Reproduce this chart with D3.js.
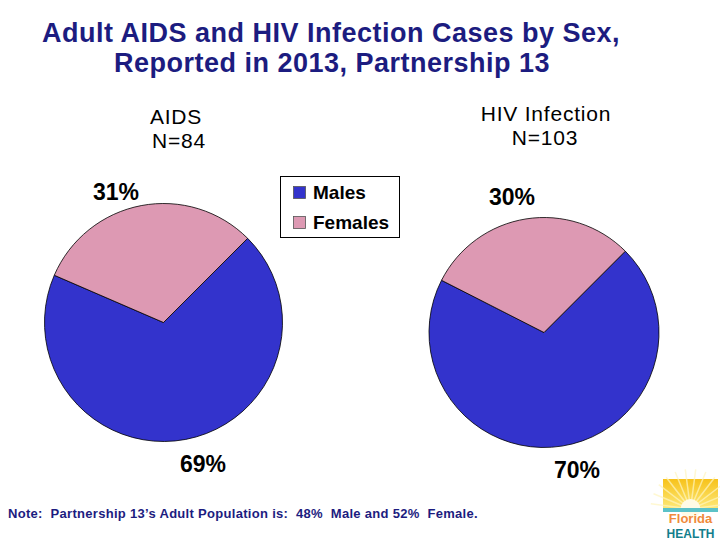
<!DOCTYPE html>
<html>
<head>
<meta charset="utf-8">
<script src="https://cdn.jsdelivr.net/npm/d3@7"></script>
<style>
body{margin:0;background:#fff;}
text{font-family:"Liberation Sans",Arial,sans-serif;}
</style>
</head>
<body>
<div id="chart"></div>
<script>
// data
var sexes = ["Males", "Females"];
var aidsPct = [69, 31];
var hivPct = [70, 30];
var pieTitles = ["AIDS", "HIV Infection"];
var pieN = ["N=84", "N=103"];
var colors = ["#3333cc", "#dd99b3"];

var W = 720, H = 540;
var svg = d3.select("#chart").append("svg").attr("width", W).attr("height", H);

// title
var navy = "#1c1c80";
svg.append("text").attr("x", 331).attr("y", 42).attr("text-anchor", "middle")
  .style("font-size", "27px").style("font-weight", "bold").style("letter-spacing", "0.5px").style("fill", navy)
  .text("Adult AIDS and HIV Infection Cases by Sex,");
svg.append("text").attr("x", 332).attr("y", 72).attr("text-anchor", "middle")
  .style("font-size", "27px").style("font-weight", "bold").style("letter-spacing", "0.5px").style("fill", navy)
  .text("Reported in 2013, Partnership 13");

var pie = d3.pie().sort(null).startAngle(Math.PI / 4).endAngle(Math.PI / 4 + 2 * Math.PI);

var pies = [
  {vals: aidsPct, cx: 163.5, cy: 322.5, r: 119, title: pieTitles[0], n: pieN[0], tx: 176, ty: 124, nx: 179, ny: 148,
   lab: [[203, 472], [116, 200]]},
  {vals: hivPct, cx: 544, cy: 332.5, r: 115, title: pieTitles[1], n: pieN[1], tx: 546, ty: 121, nx: 545, ny: 145,
   lab: [[577, 478], [512, 205]]}
];

pies.forEach(function(p){
  var g = svg.append("g").attr("transform", "translate(" + p.cx + "," + p.cy + ")");
  var arc = d3.arc().innerRadius(0).outerRadius(p.r);
  g.selectAll("path").data(pie(p.vals)).enter().append("path")
    .attr("d", arc)
    .style("fill", function(d, i){ return colors[i]; })
    .style("stroke", "#000").style("stroke-width", 0.8);
  svg.append("text").attr("x", p.tx).attr("y", p.ty).attr("text-anchor", "middle")
    .style("font-size", "21px").style("letter-spacing", "0.8px").text(p.title);
  svg.append("text").attr("x", p.nx).attr("y", p.ny).attr("text-anchor", "middle")
    .style("font-size", "21px").style("letter-spacing", "0.8px").text(p.n);
  p.vals.forEach(function(v, i){
    svg.append("text").attr("x", p.lab[i][0]).attr("y", p.lab[i][1]).attr("text-anchor", "middle")
      .style("font-size", "23px").style("font-weight", "bold").text(v + "%");
  });
});

// legend
var leg = svg.append("g");
leg.append("rect").attr("x", 280.5).attr("y", 176.5).attr("width", 119).attr("height", 61)
  .style("fill", "#fff").style("stroke", "#000").style("stroke-width", 1);
sexes.forEach(function(s, i){
  leg.append("rect").attr("x", 293.5).attr("y", 186.5 + i * 30).attr("width", 12).attr("height", 12)
    .style("fill", colors[i]).style("stroke", "#555").style("stroke-width", 0.8);
  leg.append("text").attr("x", 313).attr("y", 199 + i * 30)
    .style("font-size", "19px").style("font-weight", "bold").text(s);
});

// note
svg.append("text").attr("x", 8).attr("y", 518)
  .style("font-size", "13px").style("font-weight", "bold").style("letter-spacing", "0.3px").style("fill", navy)
  .style("white-space", "pre")
  .text("Note:  Partnership 13\u2019s Adult Population is:  48%  Male and 52%  Female.");

// logo
var logo = svg.append("g").attr("transform", "translate(663,479)");
var grad = svg.append("defs").append("linearGradient").attr("id", "sky")
  .attr("x1", 0).attr("y1", 0).attr("x2", 0).attr("y2", 1);
grad.append("stop").attr("offset", "0%").attr("stop-color", "#f7c21a");
grad.append("stop").attr("offset", "100%").attr("stop-color", "#fde97a");
logo.append("rect").attr("width", 55).attr("height", 30).style("fill", "url(#sky)");
d3.range(12).forEach(function(k){
  var a = Math.PI * (k + 0.5) / 12;
  logo.append("line").attr("x1", 27.5).attr("y1", 30)
    .attr("x2", 27.5 - Math.cos(a) * 40).attr("y2", 30 - Math.sin(a) * 40)
    .style("stroke", "#fff6c0").style("stroke-width", 1.5).style("opacity", 0.7);
});
logo.append("rect").attr("width", 55).attr("height", 30).style("fill", "none");
logo.append("circle").attr("cx", 27.5).attr("cy", 30).attr("r", 10).style("fill", "#fffbe6");
logo.append("rect").attr("y", 29).attr("width", 55).attr("height", 4).style("fill", "#5bc2c8");
logo.append("text").attr("x", 27.5).attr("y", 44).attr("text-anchor", "middle")
  .style("font-size", "13px").style("font-weight", "bold").style("fill", "#f08a3c").text("Florida");
logo.append("text").attr("x", 27.5).attr("y", 59).attr("text-anchor", "middle")
  .style("font-size", "12px").style("font-weight", "bold").style("fill", "#127e8c").text("HEALTH");
</script>
</body>
</html>
